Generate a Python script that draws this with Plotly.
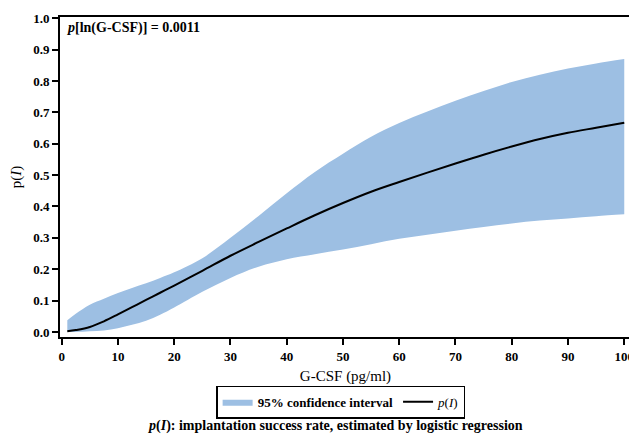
import plotly.graph_objects as go

gcsf = [1, 2.5, 5, 7.5, 10, 12.5, 15, 17.5, 20, 25, 30, 35, 40, 45, 50,
        55, 60, 65, 70, 75, 80, 85, 90, 95, 100]
p_fit = [0.002, 0.006, 0.016, 0.034, 0.056, 0.079, 0.102, 0.125, 0.148, 0.195,
         0.243, 0.287, 0.330, 0.372, 0.411, 0.447, 0.478, 0.508, 0.537, 0.565,
         0.591, 0.615, 0.635, 0.651, 0.667]
ci_upper = [0.037, 0.058, 0.087, 0.106, 0.124, 0.140, 0.155, 0.172, 0.190, 0.235,
            0.300, 0.370, 0.442, 0.510, 0.568, 0.622, 0.666, 0.703, 0.737, 0.768,
            0.797, 0.820, 0.840, 0.856, 0.870]
ci_lower = [0.000, 0.000, 0.002, 0.005, 0.012, 0.023, 0.036, 0.055, 0.078, 0.128,
            0.172, 0.208, 0.232, 0.248, 0.263, 0.280, 0.297, 0.310, 0.323, 0.335,
            0.346, 0.355, 0.362, 0.369, 0.375]
x_ticks = list(range(0, 101, 10))
y_ticks = [i / 10 for i in range(11)]

FONT = "Liberation Serif"
BAND = "#9DBFE3"

fig = go.Figure()
fig.add_trace(go.Scatter(x=gcsf, y=ci_lower, mode="lines",
                         line=dict(width=0, color=BAND, shape="spline"),
                         showlegend=False, hoverinfo="skip"))
fig.add_trace(go.Scatter(x=gcsf, y=ci_upper, mode="lines",
                         line=dict(width=0, color=BAND, shape="spline"),
                         fill="tonexty", fillcolor=BAND,
                         name="<b>95% confidence interval</b>"))
fig.add_trace(go.Scatter(x=gcsf, y=p_fit, mode="lines",
                         line=dict(width=2, color="black", shape="spline"),
                         name="<i>p</i>(<i>I</i>)"))

axis_common = dict(showline=True, linecolor="black", linewidth=2, mirror=True,
                   ticks="outside", ticklen=6, tickwidth=1.5, tickcolor="black",
                   showgrid=False, zeroline=False, ticklabeloverflow="allow",
                   tickfont=dict(family=FONT, size=13, color="black", weight="bold"))

fig.update_xaxes(range=[-0.3, 101.2], tickvals=x_ticks,
                 title=dict(text="G-CSF (pg/ml)",
                            font=dict(family=FONT, size=15, color="black"),
                            standoff=8),
                 **axis_common)
fig.update_yaxes(range=[-0.016, 1.004], tickvals=y_ticks, tickformat=".1f",
                 title=dict(text="p(<i>I</i>)",
                            font=dict(family=FONT, size=15, color="black"),
                            standoff=12),
                 **axis_common)

fig.add_annotation(x=0, y=1, xref="paper", yref="paper", xanchor="left", yanchor="top",
                   xshift=5, yshift=-1, showarrow=False,
                   text="<b><i>p</i>[ln(G-CSF)] = 0.0011</b>",
                   font=dict(family=FONT, size=14, color="black"))

fig.add_annotation(x=0.483, y=-0.279, xref="paper", yref="paper",
                   xanchor="center", yanchor="middle", showarrow=False,
                   text="<b><i>p</i>(<i>I</i>): implantation success rate, "
                        "estimated by logistic regression</b>",
                   font=dict(family=FONT, size=14, color="black"))

fig.update_layout(
    width=629, height=427,
    margin=dict(l=42, r=5, t=3, b=98),
    plot_bgcolor="white", paper_bgcolor="white",
    legend=dict(orientation="h", traceorder="normal",
                x=0.492, xanchor="center", y=-0.152, yanchor="top",
                bordercolor="black", borderwidth=1.2, bgcolor="white",
                font=dict(family=FONT, size=13, color="black"),
                itemwidth=30, tracegroupgap=0),
    font=dict(family=FONT),
)

fig.write_html("out.html")
